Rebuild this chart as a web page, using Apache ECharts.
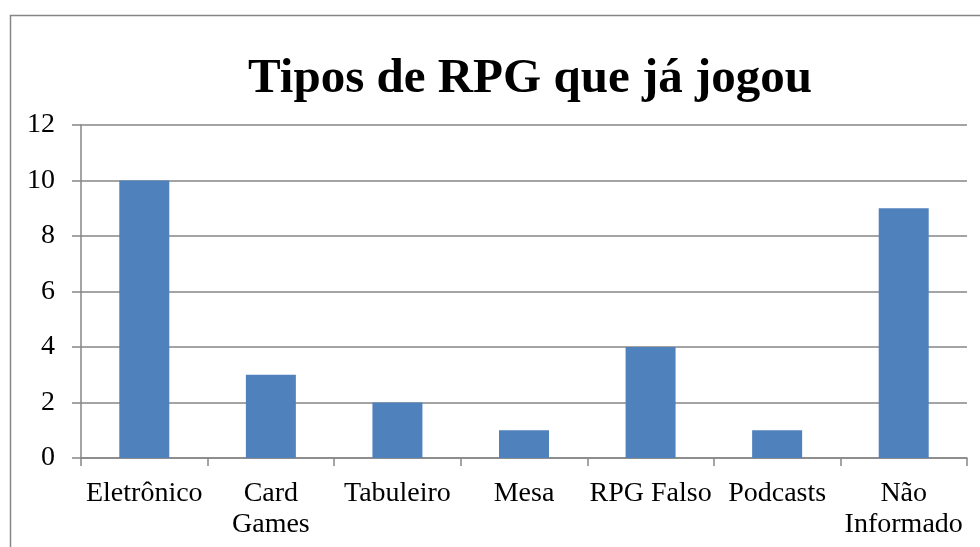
<!DOCTYPE html>
<html>
<head>
<meta charset="utf-8">
<script src="https://cdn.jsdelivr.net/npm/echarts@6/dist/echarts.min.js"></script>
<style>
  html, body { margin: 0; padding: 0; background: #fff; }
  #chart { width: 980px; height: 547px; }
</style>
</head>
<body>
<div id="chart"></div>
<script>
const categories = ['Eletrônico', 'Card\nGames', 'Tabuleiro', 'Mesa', 'RPG Falso', 'Podcasts', 'Não\nInformado'];
const values = [10, 3, 2, 1, 4, 1, 9];
const titleText = 'Tipos de RPG que já jogou';

const axisGray = '#868686';
const font = 'Liberation Serif';

const chart = echarts.init(document.getElementById('chart'));
chart.setOption({
  animation: false,
  graphic: [{
    type: 'rect',
    shape: { x: 10.5, y: 15.5, width: 1200, height: 800 },
    style: { fill: 'none', stroke: axisGray, lineWidth: 1.5 },
    silent: true
  }],
  title: {
    text: titleText,
    left: 525,
    top: 50,
    textAlign: 'center',
    textStyle: { fontFamily: font, fontWeight: 'bold', fontSize: 49, color: '#000' }
  },
  grid: { left: 81, right: 13, top: 125, bottom: 89, containLabel: false },
  xAxis: {
    type: 'category',
    data: categories,
    axisLine: { lineStyle: { color: axisGray, width: 1.5 } },
    axisTick: { show: true, length: 8, lineStyle: { color: axisGray, width: 1.5 } },
    axisLabel: { fontFamily: font, fontSize: 28, color: '#000', margin: 20, lineHeight: 31, interval: 0 }
  },
  yAxis: {
    type: 'value',
    min: 0,
    max: 12,
    interval: 2,
    axisLine: { show: true, lineStyle: { color: axisGray, width: 1.5 } },
    axisTick: { show: true, length: 9, lineStyle: { color: axisGray, width: 1.5 } },
    splitLine: { lineStyle: { color: axisGray, width: 1.5 } },
    axisLabel: { fontFamily: font, fontSize: 28, color: '#000', margin: 26 }
  },
  series: [{
    type: 'bar',
    data: values,
    barWidth: 50,
    itemStyle: { color: '#4F81BD' }
  }]
});
</script>
</body>
</html>
